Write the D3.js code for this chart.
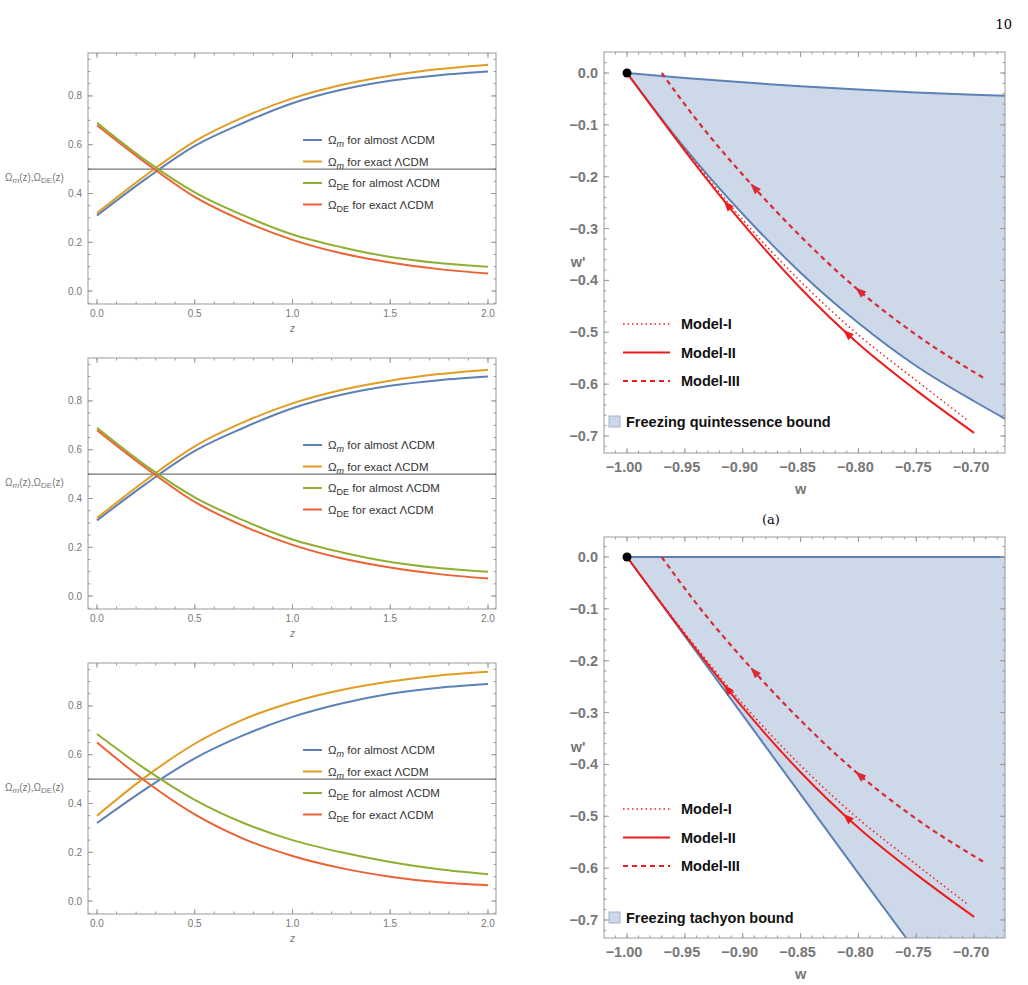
<!DOCTYPE html>
<html><head><meta charset="utf-8">
<script src="https://cdn.jsdelivr.net/npm/d3@7"></script>
<style>body{margin:0;background:#fff}</style>
</head><body><div id="chart"></div>
<script>
var width = 1028, height = 985;
var svg = d3.select('#chart').append('svg').attr('width', width).attr('height', height);

// ---- data: left panels (Omega vs z) ----
var zs = [0, 0.25, 0.5, 0.75, 1, 1.25, 1.5, 1.75, 2];
var omegaSets = [
  {m_almost: [.31, .46, .595, .69, .77, .825, .862, .885, .90],
   m_exact:  [.32, .475, .614, .713, .79, .845, .883, .91, .928],
   de_almost:[.69, .535, .405, .31, .232, .18, .14, .115, .10],
   de_exact: [.68, .525, .386, .287, .21, .155, .117, .09, .072]},
  {m_almost: [.31, .46, .595, .69, .77, .825, .862, .885, .90],
   m_exact:  [.32, .475, .614, .713, .79, .845, .883, .91, .928],
   de_almost:[.69, .535, .405, .31, .232, .18, .14, .115, .10],
   de_exact: [.68, .525, .386, .287, .21, .155, .117, .09, .072]},
  {m_almost: [.32, .46, .585, .68, .755, .81, .85, .875, .89],
   m_exact:  [.35, .51, .645, .745, .815, .865, .90, .925, .94],
   de_almost:[.685, .54, .415, .32, .25, .20, .16, .13, .11],
   de_exact: [.65, .49, .355, .255, .185, .135, .10, .077, .065]}
];
var seriesKeys = ['m_almost', 'm_exact', 'de_almost', 'de_exact'];
var seriesColors = ['#5E81B5', '#E19C24', '#8FB032', '#EB6235'];
var seriesLabels = [['m', ' for almost \u039BCDM'], ['m', ' for exact \u039BCDM'], ['DE', ' for almost \u039BCDM'], ['DE', ' for exact \u039BCDM']];

// ---- data: right panels (w' vs w) ----
var quintLower = [[-1, 0], [-0.95, -0.145], [-0.9, -0.272], [-0.85, -0.385], [-0.8, -0.482], [-0.75, -0.565], [-0.7, -0.633], [-0.673, -0.667]];
var quintUpper = [[-1, 0], [-0.95, -0.0095], [-0.9, -0.018], [-0.85, -0.0255], [-0.8, -0.032], [-0.75, -0.0375], [-0.7, -0.042], [-0.673, -0.044]];
var tachLower = [[-1, 0], [-0.9, -0.305], [-0.8, -0.61], [-0.757, -0.74]];
var tachUpper = [[-1, 0], [-0.673, 0]];
var model1 = [[-1, 0], [-0.95, -0.147], [-0.9, -0.283], [-0.85, -0.402], [-0.8, -0.505], [-0.75, -0.593], [-0.706, -0.669]];
var model2 = [[-1, 0], [-0.95, -0.15], [-0.9, -0.29], [-0.85, -0.415], [-0.8, -0.522], [-0.75, -0.612], [-0.70, -0.694]];
var model3 = [[-0.97, 0], [-0.94, -0.09], [-0.892, -0.216], [-0.85, -0.315], [-0.802, -0.415], [-0.75, -0.505], [-0.691, -0.589]];
var modelNames = ['Model-I', 'Model-II', 'Model-III'];

var gray = '#777';

function frameTicks(g, x, y, x0, x1, y0, y1, xMaj, xMin, yMaj, yMin) {
  g.append('rect').attr('x', x0).attr('y', y0).attr('width', x1 - x0).attr('height', y1 - y0)
    .attr('fill', 'none').attr('stroke', '#999').attr('stroke-width', 1);
  function tk(vals, len, horiz) {
    vals.forEach(function (v) {
      if (horiz) {
        var px = x(v); if (px < x0 || px > x1) return;
        g.append('line').attr('x1', px).attr('x2', px).attr('y1', y1).attr('y2', y1 - len).attr('stroke', '#999');
        g.append('line').attr('x1', px).attr('x2', px).attr('y1', y0).attr('y2', y0 + len).attr('stroke', '#999');
      } else {
        var py = y(v); if (py < y0 || py > y1) return;
        g.append('line').attr('y1', py).attr('y2', py).attr('x1', x0).attr('x2', x0 + len).attr('stroke', '#999');
        g.append('line').attr('y1', py).attr('y2', py).attr('x1', x1).attr('x2', x1 - len).attr('stroke', '#999');
      }
    });
  }
  tk(xMin, 2.5, true); tk(xMaj, 5, true); tk(yMin, 2.5, false); tk(yMaj, 5, false);
}

// ---- left panels ----
var leftTops = [53, 358, 663];
leftTops.forEach(function (top, p) {
  var g = svg.append('g');
  var x0 = 88, x1 = 496, y0 = top, y1 = top + 251;
  var x = d3.scaleLinear().domain([-0.046, 2.041]).range([x0, x1]);
  var y = d3.scaleLinear().domain([-0.053, 0.976]).range([y1, y0]);
  frameTicks(g, x, y, x0, x1, y0, y1, d3.range(0, 2.01, 0.5), d3.range(0, 2.01, 0.1),
    d3.range(0, 0.81, 0.2), d3.range(-0.05, 0.96, 0.05));
  [0, 0.5, 1, 1.5, 2].forEach(function (v) {
    g.append('text').attr('x', x(v)).attr('y', y1 + 13).attr('text-anchor', 'middle')
      .attr('font-family', 'Liberation Sans, Arial').attr('font-size', 10).attr('fill', gray).text(v.toFixed(1));
  });
  [0, 0.2, 0.4, 0.6, 0.8].forEach(function (v) {
    g.append('text').attr('x', x0 - 6).attr('y', y(v) + 3.5).attr('text-anchor', 'end')
      .attr('font-family', 'Liberation Sans, Arial').attr('font-size', 10).attr('fill', gray).text(v.toFixed(1));
  });
  g.append('text').attr('x', x(1)).attr('y', y1 + 28).attr('text-anchor', 'middle').attr('font-style', 'italic')
    .attr('font-family', 'Liberation Sans, Arial').attr('font-size', 10).attr('fill', gray).text('z');
  var yl = g.append('text').attr('x', 5).attr('y', y(0.5) + 12).attr('font-family', 'Liberation Sans, Arial')
    .attr('font-size', 10).attr('fill', gray);
  yl.append('tspan').text('\u03A9');
  yl.append('tspan').attr('font-style', 'italic').attr('font-size', 8).attr('dy', 2).text('m');
  yl.append('tspan').attr('dy', -2).text('(z),\u03A9');
  yl.append('tspan').attr('font-size', 8).attr('dy', 2).text('DE');
  yl.append('tspan').attr('dy', -2).text('(z)');
  g.append('line').attr('x1', x0).attr('x2', x1).attr('y1', y(0.5)).attr('y2', y(0.5)).attr('stroke', '#555').attr('stroke-width', 1);
  var line = d3.line().x(function (d, i) { return x(zs[i]); }).y(function (d) { return y(d); }).curve(d3.curveMonotoneX);
  seriesKeys.forEach(function (k, i) {
    g.append('path').attr('d', line(omegaSets[p][k])).attr('fill', 'none')
      .attr('stroke', seriesColors[i]).attr('stroke-width', 2);
  });
  seriesLabels.forEach(function (lab, i) {
    var ly = top + 87 + i * 21.5;
    g.append('line').attr('x1', 303).attr('x2', 322).attr('y1', ly).attr('y2', ly).attr('stroke', seriesColors[i]).attr('stroke-width', 2);
    var t = g.append('text').attr('x', 328).attr('y', ly + 4).attr('font-family', 'Liberation Sans, Arial')
      .attr('font-size', 11.5).attr('fill', '#333');
    t.append('tspan').text('\u03A9');
    t.append('tspan').attr('font-size', 9).attr('dy', 3).attr('font-style', lab[0] === 'm' ? 'italic' : 'normal').text(lab[0]);
    t.append('tspan').attr('dy', -3).text(lab[1]);
  });
});

// ---- right panels ----
var rightTops = [52, 537];
var bounds = [[quintLower, quintUpper, 'Freezing quintessence bound'], [tachLower, tachUpper, 'Freezing tachyon bound']];
rightTops.forEach(function (top, p) {
  var g = svg.append('g');
  var x0 = 604, x1 = 1005, y0 = top, y1 = top + 401;
  var zeroY = p === 0 ? 73 : 557;
  var x = d3.scaleLinear().domain([-1.0199, -0.6733]).range([x0, x1]);
  var y = d3.scaleLinear().domain([0, -0.7]).range([zeroY, zeroY + 363]);
  var clipId = 'clip' + p;
  svg.append('clipPath').attr('id', clipId).append('rect').attr('x', x0).attr('y', y0).attr('width', x1 - x0).attr('height', y1 - y0);
  var pl = g.append('g').attr('clip-path', 'url(#' + clipId + ')');
  var line = d3.line().x(function (d) { return x(d[0]); }).y(function (d) { return y(d[1]); }).curve(d3.curveMonotoneX);
  var lower = bounds[p][0], upper = bounds[p][1];
  var lowerPath = line(lower), upperPath = line(upper);
  // fill: lower boundary, then close along the right edge and the upper boundary
  var fillPath = lowerPath + 'L' + x(-0.5) + ',' + y(-0.8) + 'L' + x(-0.5) + ',' + y(upper[upper.length - 1][1]) +
    line(upper.slice().reverse()).replace(/^M/, 'L') + 'Z';
  pl.append('path').attr('d', fillPath).attr('fill', '#cdd8e8');
  pl.append('path').attr('d', lowerPath).attr('fill', 'none').attr('stroke', '#5E81B5').attr('stroke-width', 2);
  pl.append('path').attr('d', upperPath).attr('fill', 'none').attr('stroke', '#5E81B5').attr('stroke-width', 2);

  var styles = [{d: '1.5,3', w: 1.5}, {d: null, w: 2}, {d: '5,4', w: 2.2}];
  [model1, model2, model3].forEach(function (m, i) {
    var col = i === 2 ? '#d92a35' : '#ee1c1c';
    var path = pl.append('path').attr('d', line(m)).attr('fill', 'none').attr('stroke', col)
      .attr('stroke-width', styles[i].w).attr('stroke-dasharray', styles[i].d);
    if (i === 0) return;
    var node = path.node(), L = node.getTotalLength();
    (i === 1 ? [0.33, 0.68] : [0.33, 0.66]).forEach(function (f) {
      var a = node.getPointAtLength(L * f), b = node.getPointAtLength(L * f - 3);
      var ang = Math.atan2(b.y - a.y, b.x - a.x) * 180 / Math.PI;
      pl.append('path').attr('d', 'M6,0L-5,-4L-5,4Z').attr('fill', col)
        .attr('transform', 'translate(' + a.x + ',' + a.y + ')rotate(' + ang + ')');
    });
  });
  g.append('circle').attr('cx', x(-1)).attr('cy', y(0)).attr('r', 4.5).attr('fill', '#000');

  frameTicks(g, x, y, x0, x1, y0, y1, d3.range(-1, -0.669, 0.05), d3.range(-1.01, -0.669, 0.01),
    d3.range(-0.7, 0.01, 0.1), d3.range(-0.72, 0.04, 0.02));
  d3.range(-1, -0.69, 0.05).forEach(function (v) {
    g.append('text').attr('x', x(v) - 3).attr('y', y1 + 19).attr('text-anchor', 'middle')
      .attr('font-family', 'Liberation Sans, Arial').attr('font-weight', 'bold').attr('font-size', 14.5).attr('fill', gray)
      .text('\u2212' + Math.abs(v).toFixed(2));
  });
  d3.range(-0.7, 0.01, 0.1).forEach(function (v) {
    var r = Math.abs(v) < 1e-9 ? '0.0' : '\u2212' + Math.abs(v).toFixed(1);
    g.append('text').attr('x', x0 - 6).attr('y', y(v) + 5).attr('text-anchor', 'end')
      .attr('font-family', 'Liberation Sans, Arial').attr('font-weight', 'bold').attr('font-size', 14.5).attr('fill', gray).text(r);
  });
  g.append('text').attr('x', x(-0.85)).attr('y', y1 + 41).attr('text-anchor', 'middle')
    .attr('font-family', 'Liberation Sans, Arial').attr('font-weight', 'bold').attr('font-size', 14.5).attr('fill', gray).text('w');
  g.append('text').attr('x', 578).attr('y', p === 0 ? 267 : 752).attr('text-anchor', 'middle')
    .attr('font-family', 'Liberation Sans, Arial').attr('font-weight', 'bold').attr('font-size', 14.5).attr('fill', gray).text("w'");

  modelNames.forEach(function (name, i) {
    var ly = (p === 0 ? 324 : 809) + i * 28.5;
    g.append('line').attr('x1', 623).attr('x2', 670).attr('y1', ly).attr('y2', ly).attr('stroke', '#ee1c1c')
      .attr('stroke-width', styles[i].w).attr('stroke-dasharray', styles[i].d);
    g.append('text').attr('x', 681).attr('y', ly + 5).attr('font-family', 'Liberation Sans, Arial').attr('font-weight', 'bold')
      .attr('font-size', 14.5).attr('fill', '#111').text(name);
  });
  var by = p === 0 ? 422 : 918;
  g.append('rect').attr('x', 609).attr('y', by - 6).attr('width', 11).attr('height', 11).attr('fill', '#cdd8e8').attr('stroke', '#9fb3d3');
  g.append('text').attr('x', 626).attr('y', by + 5).attr('font-family', 'Liberation Sans, Arial').attr('font-weight', 'bold')
    .attr('font-size', 14.5).attr('fill', '#111').text(bounds[p][2]);
});

svg.append('text').attr('x', 771).attr('y', 524).attr('text-anchor', 'middle').attr('font-family', 'DejaVu Serif, serif')
  .attr('font-size', 13).attr('fill', '#000').text('(a)');
svg.append('text').attr('x', 1012).attr('y', 29).attr('text-anchor', 'end').attr('font-family', 'DejaVu Serif, serif')
  .attr('font-size', 13).attr('fill', '#000').text('10');
</script></body></html>
